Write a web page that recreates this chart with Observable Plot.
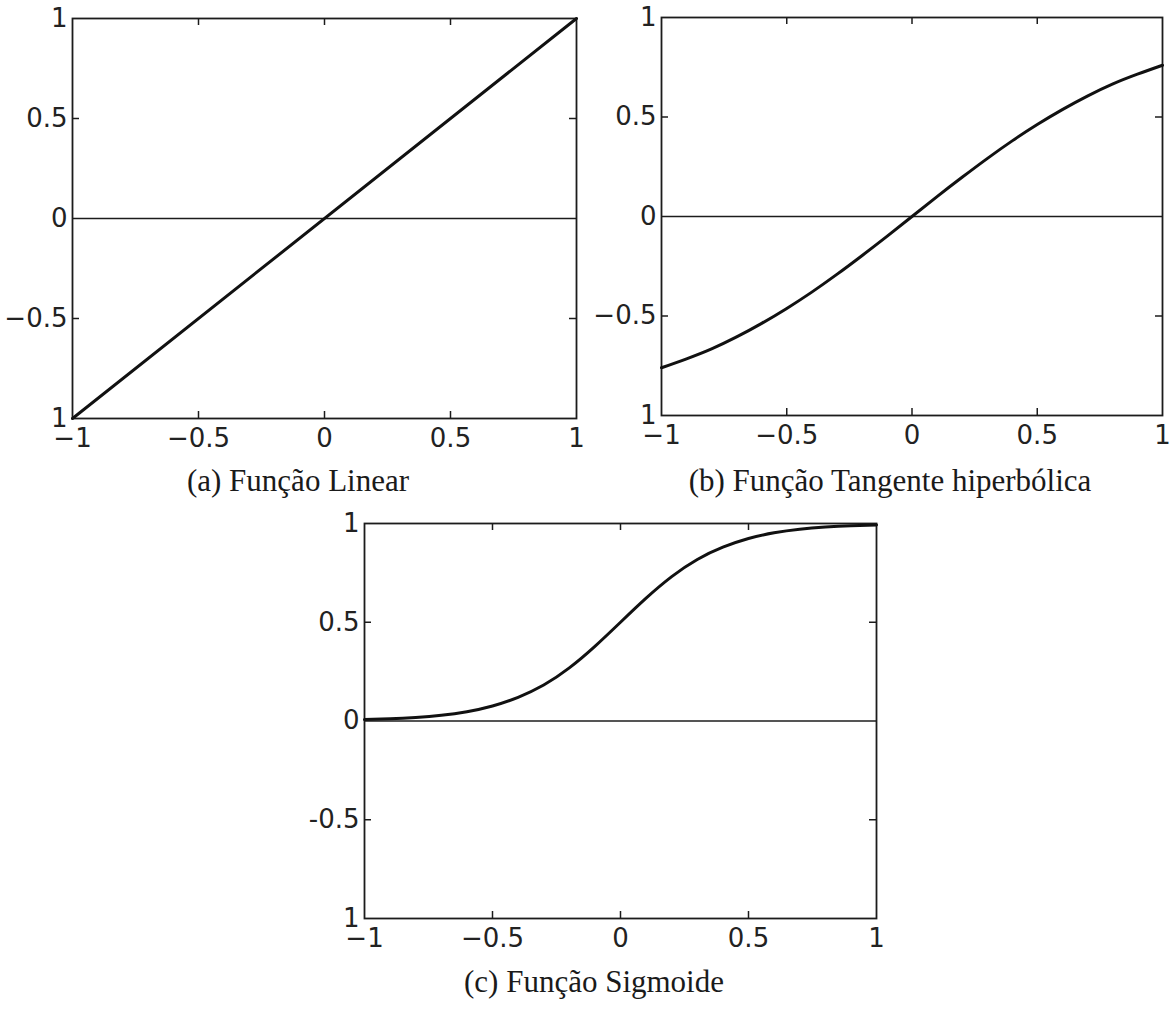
<!DOCTYPE html>
<html>
<head>
<meta charset="utf-8">
<script src="https://cdn.jsdelivr.net/npm/d3@7"></script>
<script src="https://cdn.jsdelivr.net/npm/@observablehq/plot@0.6"></script>
<style>
  html, body { margin: 0; padding: 0; background: #fff; }
  #page { position: relative; width: 1173px; height: 1014px; overflow: hidden; background: #fff; }
  .panel { position: absolute; }
  .cap { position: absolute; font-family: "Liberation Serif", serif; font-size: 31px; line-height: 31px; color: #1a1a1a; white-space: nowrap; transform: translateX(-50%); }
</style>
</head>
<body>
<div id="page"></div>
<script>
// ---- data ----
const xTicks = [-1, -0.5, 0, 0.5, 1];
const xTickLabels = ["−1", "−0.5", "0", "0.5", "1"];
const yTicks = [1, 0.5, 0, -0.5, -1];
const yTickLabelsAB = ["1", "0.5", "0", "−0.5", "1"];
const yTickLabelsC = ["1", "0.5", "0", "-0.5", "1"];

// (a) linear
const linearX = [-1, 1];
const linearY = [-1, 1];

// (b) hyperbolic tangent
const tanhX = [-1, -0.9, -0.8, -0.7, -0.6, -0.5, -0.4, -0.3, -0.2, -0.1, 0, 0.1, 0.2, 0.3, 0.4, 0.5, 0.6, 0.7, 0.8, 0.9, 1];
const tanhY = [-0.76, -0.715, -0.665, -0.605, -0.537, -0.462, -0.38, -0.291, -0.197, -0.10, 0, 0.10, 0.197, 0.291, 0.38, 0.462, 0.537, 0.605, 0.665, 0.715, 0.76];

// (c) sigmoid
const sigX = [-1, -0.9, -0.8, -0.7, -0.6, -0.5, -0.4, -0.3, -0.2, -0.1, 0, 0.1, 0.2, 0.3, 0.4, 0.5, 0.6, 0.7, 0.8, 0.9, 1];
const sigY = [0.007, 0.011, 0.018, 0.029, 0.047, 0.076, 0.12, 0.182, 0.269, 0.378, 0.5, 0.622, 0.731, 0.818, 0.88, 0.924, 0.953, 0.971, 0.982, 0.989, 0.993];

const captions = ["(a) Função Linear", "(b) Função Tangente hiperbólica", "(c) Função Sigmoide"];

// ---- drawing ----
const ink = "#1c1c1c";
const inner = [-0.5, 0.5];

function panel({xs, ys, yLabels, width, height, mL, mR, mT, mB}) {
  const innerW = width - mL - mR;
  const innerH = height - mT - mB;
  const tick = 7;
  const pts = xs.map((x, i) => ({x, y: ys[i]}));
  return Plot.plot({
    width, height,
    marginLeft: mL, marginRight: mR, marginTop: mT, marginBottom: mB,
    x: {domain: [-1, 1]},
    y: {domain: [-1, 1]},
    style: {fontFamily: "DejaVu Sans, sans-serif", fontSize: "26px", color: "#222", overflow: "visible", background: "transparent"},
    marks: [
      Plot.ruleY([0], {stroke: ink, strokeWidth: 1.7}),
      // inward tick marks (bottom, top, left, right)
      Plot.ruleX(inner.concat([0]), {x: d => d, insetTop: innerH - tick, stroke: ink, strokeWidth: 1.5}),
      Plot.ruleX(inner.concat([0]), {x: d => d, insetBottom: innerH - tick, stroke: ink, strokeWidth: 1.5}),
      Plot.ruleY(inner, {y: d => d, insetRight: innerW - tick, stroke: ink, strokeWidth: 1.5}),
      Plot.ruleY(inner, {y: d => d, insetLeft: innerW - tick, stroke: ink, strokeWidth: 1.5}),
      Plot.frame({stroke: ink, strokeWidth: 1.8}),
      Plot.line(pts, {x: "x", y: "y", stroke: "#111", strokeWidth: 3, curve: "natural"}),
      Plot.axisX({ticks: xTicks, tickSize: 0, tickPadding: 10, label: null, tickFormat: d => xTickLabels[xTicks.indexOf(d)], fontSize: 26, fill: "#222"}),
      Plot.axisY({ticks: yTicks, tickSize: 0, tickPadding: 5, label: null, tickFormat: d => yLabels[yTicks.indexOf(d)], fontSize: 26, fill: "#222"})
    ]
  });
}

const page = document.getElementById("page");
function place(node, left, top) {
  node.classList.add("panel");
  node.style.left = left + "px";
  node.style.top = top + "px";
  page.appendChild(node);
}

place(panel({xs: linearX, ys: linearY, yLabels: yTickLabelsAB, width: 600, height: 460, mL: 72, mR: 24, mT: 18, mB: 42}), 0, 0);
place(panel({xs: tanhX, ys: tanhY, yLabels: yTickLabelsAB, width: 583, height: 460, mL: 71, mR: 11, mT: 17, mB: 45}), 590, 0);
place(panel({xs: sigX, ys: sigY, yLabels: yTickLabelsC, width: 600, height: 460, mL: 74, mR: 14, mT: 18, mB: 47}), 290, 505);

function caption(text, cx, top) {
  const d = document.createElement("div");
  d.className = "cap";
  d.textContent = text;
  d.style.left = cx + "px";
  d.style.top = top + "px";
  page.appendChild(d);
}
caption(captions[0], 298, 465);
caption(captions[1], 890, 465);
caption(captions[2], 594, 966);
</script>
</body>
</html>
